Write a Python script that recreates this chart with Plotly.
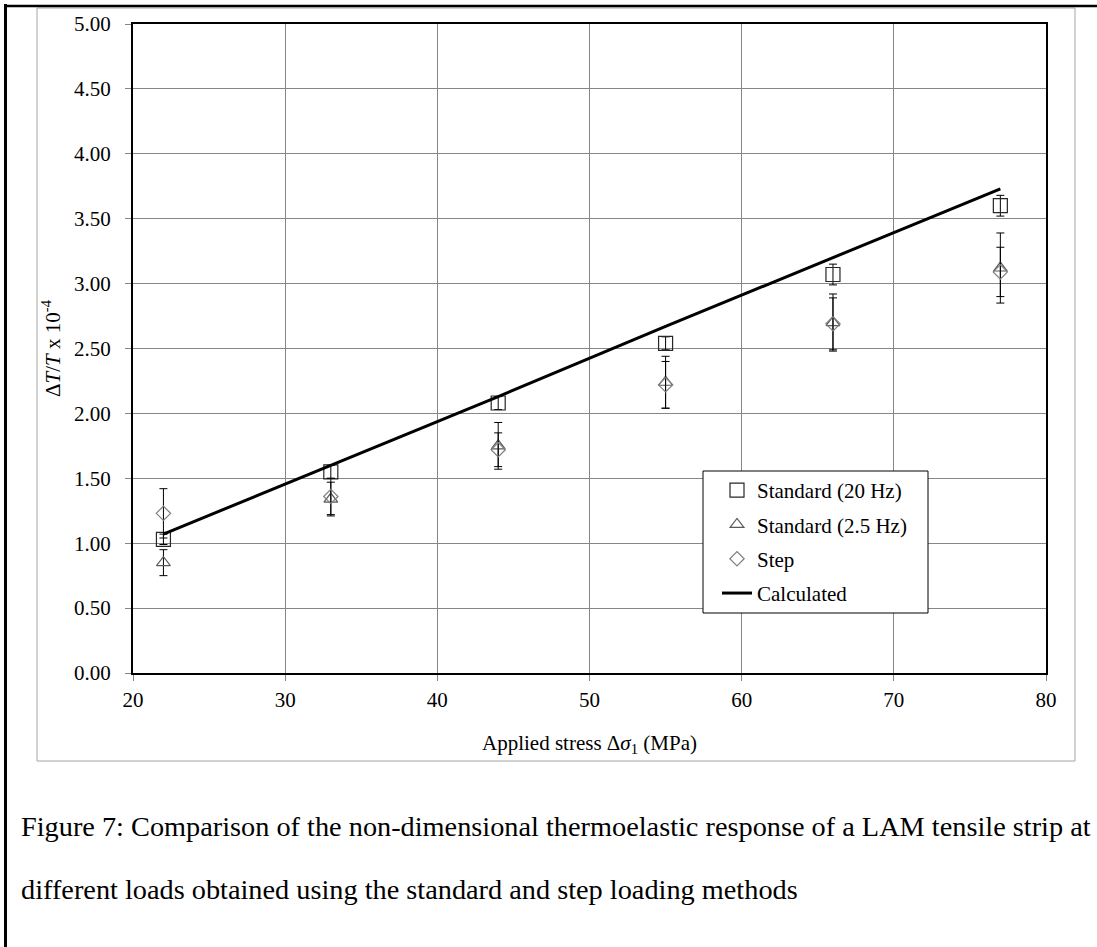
import plotly.graph_objects as go

# ---- data ----
stress = [22, 33, 44, 55, 66, 77]
std20 = [1.03, 1.55, 2.08, 2.54, 3.07, 3.60]
std20_err = [0.04, 0.05, 0.05, 0.05, 0.08, 0.08]
std25 = [0.85, 1.34, 1.75, 2.24, 2.70, 3.12]
std25_err = [0.10, 0.13, 0.18, 0.20, 0.22, 0.27]
step = [1.23, 1.36, 1.72, 2.22, 2.69, 3.09]
step_err = [0.19, 0.14, 0.13, 0.18, 0.20, 0.19]
calc = [1.07, 1.60, 2.13, 2.67, 3.20, 3.73]

x_ticks = [20, 30, 40, 50, 60, 70, 80]
y_ticks = [0, 0.5, 1.0, 1.5, 2.0, 2.5, 3.0, 3.5, 4.0, 4.5, 5.0]

caption1 = "Figure 7: Comparison of the non-dimensional thermoelastic response of a LAM tensile strip at"
caption2 = "different loads obtained using the standard and step loading methods"

# ---- layout geometry (pixels) ----
W, H = 1097, 947
L, R, T, B = 133, 1046, 24, 673
FONT = "Liberation Serif, Times New Roman, serif"


def px(x):
    return (x - L) / (R - L)


def py(y):
    return (B - y) / (B - T)


fig = go.Figure()

err_style = dict(type="data", symmetric=True, color="black", thickness=1, width=4)

fig.add_trace(go.Scatter(
    x=stress, y=std20, mode="markers", name="Standard (20 Hz)",
    marker=dict(symbol="square-open", size=14, color="#262626", line=dict(width=1.2)),
    error_y=dict(array=std20_err, **err_style), legendgroup="a",
))
fig.add_trace(go.Scatter(
    x=stress, y=std25, mode="markers", name="Standard (2.5 Hz)",
    marker=dict(symbol="triangle-up-open", size=12, color="#595959", line=dict(width=1.2)),
    error_y=dict(array=std25_err, **err_style), legendgroup="b",
))
fig.add_trace(go.Scatter(
    x=stress, y=step, mode="markers", name="Step",
    marker=dict(symbol="diamond-open", size=11, color="#7f7f7f", line=dict(width=1.2)),
    error_y=dict(array=step_err, **err_style), legendgroup="c",
))
fig.add_trace(go.Scatter(
    x=stress, y=calc, mode="lines", name="Calculated",
    line=dict(color="black", width=3), legendgroup="d",
))

shapes = [
    # outer page frame (black)
    dict(type="line", xref="paper", yref="paper", x0=px(5.5), x1=px(5.5), y0=py(4), y1=py(950),
         line=dict(color="black", width=3)),
    dict(type="line", xref="paper", yref="paper", x0=px(4), x1=px(1100), y0=py(6), y1=py(6),
         line=dict(color="black", width=2.5)),
    # chart area frame (gray)
    dict(type="rect", xref="paper", yref="paper", x0=px(37), x1=px(1075), y0=py(8), y1=py(761),
         line=dict(color="#a6a6a6", width=1), layer="below"),
    # legend box
    dict(type="rect", xref="paper", yref="paper", x0=px(703), x1=px(928), y0=py(471), y1=py(613),
         line=dict(color="black", width=1), fillcolor="white", layer="above"),
]

annotations = [
    dict(text=caption1, xref="paper", yref="paper", x=px(19), y=py(826), xanchor="left",
         yanchor="middle", showarrow=False, font=dict(family=FONT, size=28.3, color="black")),
    dict(text=caption2, xref="paper", yref="paper", x=px(19), y=py(889), xanchor="left",
         yanchor="middle", showarrow=False, font=dict(family=FONT, size=28.3, color="black")),
]

axis_common = dict(
    showgrid=True, gridcolor="#868686", gridwidth=1,
    showline=True, linecolor="black", linewidth=2, mirror=True,
    ticks="outside", ticklen=6, tickcolor="#868686", tickwidth=1,
    zeroline=False,
    tickfont=dict(family=FONT, size=21, color="black"),
)

fig.update_layout(
    width=W, height=H,
    margin=dict(l=L, r=W - R, t=T, b=H - B),
    paper_bgcolor="white", plot_bgcolor="white",
    font=dict(family=FONT, size=21, color="black"),
    xaxis=dict(range=[20, 80], tickvals=x_ticks, ticktext=[str(v) for v in x_ticks],
               title=dict(text="Applied stress Δ<i>σ</i><sub>1</sub> (MPa)",
                          font=dict(family=FONT, size=21), standoff=24),
               ticklabelstandoff=1, **axis_common),
    yaxis=dict(range=[0, 5], tickvals=y_ticks, ticktext=[f"{v:.2f}" for v in y_ticks],
               title=dict(text="Δ<i>T</i>/<i>T</i> x 10<sup>-4</sup>",
                          font=dict(family=FONT, size=21), standoff=8),
               ticklabelstandoff=10, **axis_common),
    showlegend=True,
    legend=dict(x=px(717), y=py(470), xanchor="left", yanchor="top",
                bgcolor="rgba(0,0,0,0)", borderwidth=0,
                font=dict(family=FONT, size=21, color="black"),
                traceorder="grouped", tracegroupgap=4, itemsizing="trace"),
    shapes=shapes,
    annotations=annotations,
)

fig.write_html("out.html")
